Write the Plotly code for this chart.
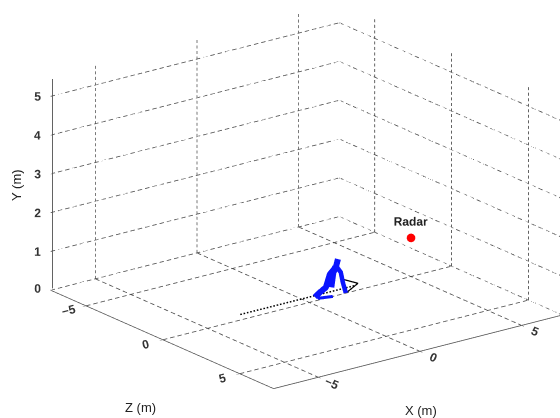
import math
import plotly.graph_objects as go

# Axis ranges and ticks (metres)
x_range = [-7.2, 7.0]     # X (m)
z_range = [-7.3, 7.2]     # Z (m)
y_range = [0.0, 5.5]      # Y (m), vertical
x_ticks = [-5, 0, 5]
z_ticks = [-5, 0, 5]
y_ticks = [0, 1, 2, 3, 4, 5]
y_tick_labels = ["0  ", "1  ", "2  ", "3  ", "4  ", "5  "]

# Radar position (X, Z, Y)
radar_x = [5.0]
radar_z = [0.0]
radar_y = [1.0]

# Walking direction arrow on the floor (X, Z)
arrow_x = [-3.0, 2.63]
arrow_z = [-0.52, -0.49]
head_x = [2.68, 2.87, 1.89]
head_z = [-1.37, -0.63, -0.05]

# Human body model: polylines of (X, Y) joints at Z = 0
body_z = 0.0
back_x = [1.41, 1.31, 1.01, 0.82, 0.43, 0.28]
back_y = [0.93, 0.74, 0.59, 0.28, 0.16, 0.10]
front_x = [1.36, 1.55, 1.65, 1.80]
front_y = [0.73, 0.57, 0.30, 0.00]
trunk_x = [1.31, 1.16, 1.06]
trunk_y = [0.74, 0.62, 0.25]
foot_x = [0.43, 1.16]
foot_y = [0.05, 0.00]

# approximate on-screen pixels per data unit along each axis, used to
# size the dash pattern of grid lines
PX_PER_UNIT = {"z": 16.8, "x": 21.0, "y": 38.6}
EDGE_EPS = 0.05   # keeps edge-aligned marks just inside the clip box

# viewing direction and a sideways pan of the look-at point (scene units)
VIEW_DIR = (0.750, -0.570, 0.3355)
EYE_DIST = 2.0
PAN = (-0.0817, -0.1075, 0.0)


def dashed(a, b, on_px, off_px, out):
    """Append a dashed line from a to b (points as (Z, X, Y)) to out."""
    dz, dx, dy = b[0] - a[0], b[1] - a[1], b[2] - a[2]
    length_px = math.sqrt((dz * PX_PER_UNIT["z"]) ** 2 +
                          (dx * PX_PER_UNIT["x"]) ** 2 +
                          (dy * PX_PER_UNIT["y"]) ** 2)
    period = on_px + off_px
    n = max(1, int(length_px // period))
    for i in range(n + 1):
        t0 = i * period / length_px
        if t0 >= 1:
            break
        t1 = min(1.0, (i * period + on_px) / length_px)
        for t in (t0, t1):
            out[0].append(a[0] + dz * t)
            out[1].append(a[1] + dx * t)
            out[2].append(a[2] + dy * t)
        for k in range(3):
            out[k].append(None)


def grid_segments():
    """Dashed grid on the floor and the two back walls (plotly x=Z, y=X, z=Y)."""
    out = ([], [], [])
    zmin, zmax = z_range
    xmin, xmax = x_range
    ymin, ymax = y_range
    on, off = 4.5, 3.0
    # floor
    for xt in x_ticks:
        dashed((zmin, xt, ymin), (zmax, xt, ymin), on, off, out)
    for zt in z_ticks:
        dashed((zt, xmin, ymin), (zt, xmax, ymin), on, off, out)
    # wall at Z = min
    for xt in x_ticks:
        dashed((zmin, xt, ymin), (zmin, xt, ymax), 3.0, 2.5, out)
    for yt in y_ticks:
        dashed((zmin, xmin, yt), (zmin, xmax, yt), on, off, out)
    # wall at X = max
    for zt in z_ticks:
        dashed((zt, xmax, ymin), (zt, xmax, ymax), 3.0, 2.5, out)
    for yt in y_ticks:
        dashed((zmin, xmax, yt), (zmax, xmax, yt), on, off, out)
    # solid vertical Y axis at the left corner (same stroke as the grid)
    cz, cx = zmin + EDGE_EPS, xmin + EDGE_EPS
    out[0].extend([cz, cz + 1e-3, None])
    out[1].extend([cx, cx + 1e-3, None])
    out[2].extend([ymin + EDGE_EPS, ymax - EDGE_EPS, None])
    return out


fig = go.Figure()

gx, gy, gz = grid_segments()
fig.add_trace(go.Scatter3d(
    x=gx, y=gy, z=gz, mode="lines", connectgaps=False,
    line=dict(color="#4d4d4d", width=1.6),
    hoverinfo="skip", showlegend=False))

# tick labels of the vertical Y axis, placed at the left corner
corner_z = z_range[0] + EDGE_EPS
corner_x = x_range[0] + EDGE_EPS
fig.add_trace(go.Scatter3d(
    x=[corner_z + 1e-3 * i for i in range(len(y_ticks))],
    y=[corner_x + 1e-3 * i for i in range(len(y_ticks))],
    z=[max(v, EDGE_EPS) for v in y_ticks],
    mode="text", text=y_tick_labels, textposition="middle left",
    textfont=dict(family="Liberation Sans", size=12, color="#333333",
                  weight="bold"),
    hoverinfo="skip", showlegend=False))

# human figure
for bx, by, w in [(back_x, back_y, 12), (front_x, front_y, 9),
                  (trunk_x, trunk_y, 14), (foot_x, foot_y, 6)]:
    fig.add_trace(go.Scatter3d(
        x=[body_z] * len(bx), y=bx, z=by, mode="lines",
        line=dict(color="#0a14ff", width=w),
        hoverinfo="skip", showlegend=False))

# dotted arrow
ax_, ay_, az_ = [], [], []
dashed((arrow_z[0], arrow_x[0], 0.0), (arrow_z[1], arrow_x[1], 0.0),
       1.6, 1.8, (ax_, ay_, az_))
fig.add_trace(go.Scatter3d(
    x=ax_, y=ay_, z=az_, mode="lines", connectgaps=False,
    line=dict(color="black", width=3),
    hoverinfo="skip", showlegend=False))
fig.add_trace(go.Scatter3d(
    x=head_z, y=head_x, z=[0, 0, 0], mode="lines",
    line=dict(color="black", width=2.5),
    hoverinfo="skip", showlegend=False))

# radar
fig.add_trace(go.Scatter3d(
    x=radar_z, y=radar_x, z=radar_y, mode="markers+text",
    marker=dict(color="#ff0000", size=5),
    text=["Radar"], textposition="top center",
    textfont=dict(family="Liberation Sans", size=12, color="#222222",
                  weight="bold"),
    hoverinfo="skip", showlegend=False))

axis_common = dict(
    showgrid=False, zeroline=False, showbackground=False,
    showline=True, linecolor="#505050", linewidth=1.6,
    ticks="outside", ticklen=4, tickcolor="#505050",
    tickfont=dict(family="Liberation Sans", size=12, color="#333333",
                  weight="bold"),
    showspikes=False, title=dict(text=""),
)
zaxis_style = dict(axis_common)
zaxis_style.update(showline=False, ticks="", showticklabels=False)

fig.update_layout(
    width=560, height=418,
    margin=dict(l=0, r=0, t=0, b=0),
    paper_bgcolor="white",
    font=dict(family="Liberation Sans", color="#222222"),
    scene=dict(
        domain=dict(x=[0.0, 1.0], y=[0.062, 1.0]),
        xaxis=dict(range=z_range, tickvals=z_ticks, **axis_common),
        yaxis=dict(range=x_range, tickvals=x_ticks, **axis_common),
        zaxis=dict(range=y_range, tickvals=y_ticks, **zaxis_style),
        aspectmode="manual",
        aspectratio=dict(x=1.88, y=1.85, z=1.155),
        camera=dict(
            eye=dict(x=VIEW_DIR[0] * EYE_DIST + PAN[0],
                     y=VIEW_DIR[1] * EYE_DIST + PAN[1],
                     z=VIEW_DIR[2] * EYE_DIST + PAN[2]),
            up=dict(x=0, y=0, z=1),
            center=dict(x=PAN[0], y=PAN[1], z=PAN[2]),
            projection=dict(type="orthographic"),
        ),
    ),
    annotations=[
        dict(text="Y (m)", x=17, y=185, textangle=-90),
        dict(text="Z (m)", x=140, y=407),
        dict(text="X (m)", x=421, y=410),
    ],
)

# annotation positions above are pixel positions; convert to paper fractions
for ann in fig.layout.annotations:
    ann.update(x=ann.x / 560, y=1 - ann.y / 418, xref="paper", yref="paper",
               xanchor="center", yanchor="middle", showarrow=False,
               font=dict(family="Liberation Sans", size=13, color="#222222"))

fig.write_html("out.html", config=dict(displayModeBar=False))
